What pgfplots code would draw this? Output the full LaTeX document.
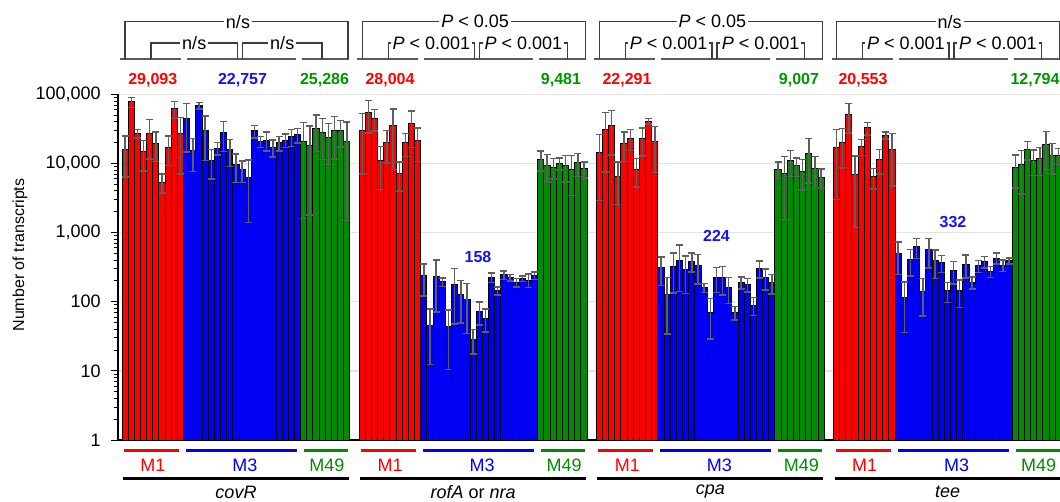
\documentclass[border=0pt]{standalone}
\usepackage{fontspec}
\setmainfont{Liberation Sans}
\usepackage{pgfplots}
\usepackage{pgfplotstable}
\pgfplotsset{compat=1.18}
\definecolor{cred}{RGB}{255,0,0}
\definecolor{cblue}{RGB}{0,0,250}
\definecolor{cgreen}{RGB}{0,140,0}
\definecolor{tgreen}{RGB}{0,150,0}
\definecolor{tblue}{RGB}{20,20,240}
\definecolor{brk}{RGB}{60,60,60}
\definecolor{seg}{RGB}{90,90,90}
\definecolor{ebar}{RGB}{95,95,95}

% M1 (red): g = gene group, i = bar index, y = mean, e = error
\pgfplotstableread{
g i y e
0 0 15700 9300
0 1 77400 13200
0 2 27300 3900
0 3 14700 6900
0 4 27300 15700
0 5 19600 8900
0 6 5350 1630
0 7 17100 7700
0 8 61400 16800
0 9 26700 19700
1 0 29800 22800
1 1 54200 26700
1 2 45000 15700
1 3 10900 6700
1 4 20000 9800
1 5 34800 26600
1 6 7210 3200
1 7 20000 7300
1 8 37200 20200
1 9 21600 11000
2 0 14500 11600
2 1 31200 23700
2 2 35600 22300
2 3 6530 4000
2 4 19600 8900
2 5 23100 7700
2 6 8130 3600
2 7 22600 9700
2 8 40700 3700
2 9 20700 13300
3 0 16900 13900
3 1 20200 11600
3 2 50800 23300
3 3 6980 5800
3 4 17700 4600
3 5 32600 6800
3 6 6380 2100
3 7 11500 4500
3 8 25500 3000
3 9 16000 11300
}\redtab

% M3 (blue)
\pgfplotstableread{
g i y e
0 10 44400 29700
0 11 15200 7600
0 12 68500 7200
0 13 29800 18800
0 14 11000 5000
0 15 16600 3400
0 16 27600 12600
0 17 15700 6600
0 18 9510 4200
0 19 8130 2800
0 20 6310 4900
0 21 29500 6100
0 22 20700 3700
0 23 21800 6700
0 24 17100 4700
0 25 19800 4600
0 26 21800 4900
0 27 24400 6800
0 28 25800 6000
1 10 237 116
1 11 45.3 33
1 12 235 164
1 13 194 27
1 14 43.4 33
1 15 175 127
1 16 126 77
1 17 109 74
1 18 28.4 11
1 19 72.3 26
1 20 57.2 21
1 21 224 35
1 22 144 19
1 23 245 35
1 24 224 23
1 25 190 26
1 26 216 21
1 27 205 45
1 28 239 29
2 10 309 137
2 11 129 95
2 12 319 185
2 13 399 259
2 14 296 164
2 15 386 118
2 16 330 151
2 17 159 23
2 18 69.8 41
2 19 224 88
2 20 224 98
2 21 159 65
2 22 69.8 15.5
2 23 190 36
2 24 177 39
2 25 89.4 26
2 26 306 84
2 27 222 74
2 28 188 59
3 10 492 243
3 11 114 78
3 12 403 166
3 13 621 198
3 14 139 77
3 15 562 257
3 16 390 174
3 17 365 101
3 18 144 46
3 19 280 101
3 20 144 61
3 21 345 126
3 22 190 36
3 23 330 64
3 24 378 72
3 25 273 49
3 26 427 77
3 27 338 65
3 28 390 37
}\bluetab

% M49 (green)
\pgfplotstableread{
g i y e
0 29 20500 18900
0 30 18300 16500
0 31 32300 17500
0 32 27900 16500
0 33 23900 14200
0 34 29500 17900
0 35 29500 12100
0 36 20500 19000
1 29 11500 3700
1 30 9420 4000
1 31 8810 2900
1 32 10070 2000
1 33 9200 3800
1 34 8240 4800
1 35 10200 3700
1 36 8330 2200
2 29 8240 2200
2 30 7050 5500
2 31 11000 4500
2 32 9200 2700
2 33 7710 3600
2 34 14000 8800
2 35 8500 4000
2 36 6310 2000
3 29 8810 4400
3 30 9510 5900
3 31 16000 4700
3 32 11200 4500
3 33 11900 5200
3 34 18500 10300
3 35 13200 6200
3 36 13000 3400
}\greentab

\pgfplotsset{
  eb/.style={error bars/.cd, y dir=both, y explicit, error mark=none,
    error bar style={ebar, line width=0.7bp, solid}},
  barsty/.style={draw=black, line width=0.5bp, fill=#1},
  capsty/.style={only marks, mark=-, mark size=1.75bp, color=ebar,
    mark options={ebar, line width=0.75bp, solid}},
}

\newcommand\ns{n/s}
\newcommand\pa{\textit{P} < 0.05}
\newcommand\pb{\textit{P} < 0.001}

% #1 = group start (px), #2 top label, #3 inner left, #4 inner right, #5 right end of inner right, #6 gene name
\newcommand\grp[6]{%
  \draw[seg, line width=1bp] (#1-2,59) -- (#1+59,59);
  \draw[seg, line width=1bp] (#1+65,59) -- (#1+174,59);
  \draw[seg, line width=1bp] (#1+180,59) -- (#1+227,59);
  \draw[brk, line width=0.65bp] (#1+3,59) |- (#1+226,21.7) -- (#1+226,59);
  \node[lab] at (#1+116,21.7) {#2};
  \draw[brk, line width=0.65bp] (#1+29,59) |- (#1+115.5,43) -- (#1+115.5,59);
  \node[lab] at ({#1+72.25},43) {#3};
  \draw[brk, line width=0.65bp] (#1+120.5,59) |- (#1+#5,43) -- (#1+#5,59);
  \node[lab] at ({#1+(120.5+#5)/2},43) {#4};
  \draw[cred, line width=1.5bp] (#1+2,451) -- (#1+57,451);
  \draw[cblue, line width=1.5bp] (#1+64,451) -- (#1+175,451);
  \draw[cgreen, line width=1.5bp] (#1+182,451) -- (#1+226,451);
  \node[cred] at (#1+31,465) {M1};
  \node[cblue] at (#1+123,465) {M3};
  \node[cgreen] at (#1+205,465) {M49};
  \draw[black, line width=1.5bp] (#1+1,479) -- (#1+227,479);
  \node at (#1+114,492) {#6};
}

\begin{document}
\begin{tikzpicture}
\useasboundingbox (0,0) rectangle (530bp,-251bp);
\begin{axis}[
  at={(59bp,-220bp)}, anchor=south west,
  scale only axis, width=471bp, height=172.85bp,
  xmin=-1.15, xmax=151.77,
  ymode=log, ymin=1, ymax=100000,
  ytick={1,10,100,1000,10000,100000},
  yticklabels={1,10,100,{1,000},{10,000},{100,000}},
  minor ytick={2,3,4,5,6,7,8,9,20,30,40,50,60,70,80,90,200,300,400,500,600,700,800,900,2000,3000,4000,5000,6000,7000,8000,9000,20000,30000,40000,50000,60000,70000,80000,90000},
  xtick=\empty,
  axis x line*=bottom, axis y line*=left,
  axis line style={black, line width=0.6bp},
  tick align=outside,
  major tick length=3.5bp, minor tick length=2bp,
  tick style={black, line width=0.5bp},
  yticklabel style={font=\fontsize{9bp}{10bp}\selectfont, inner sep=1.5bp, xshift=-3.5bp},
  ymajorgrids, major grid style={gray!22, line width=0.7bp},
  ybar, bar width=1, bar shift=0pt,
]
\addplot[barsty=cred, eb] table[x expr=\thisrow{g}*38.5+\thisrow{i}, y=y, y error=e] {\redtab};
\addplot[barsty=cblue, eb] table[x expr=\thisrow{g}*38.5+\thisrow{i}, y=y, y error=e] {\bluetab};
\addplot[barsty=cgreen, eb] table[x expr=\thisrow{g}*38.5+\thisrow{i}, y=y, y error=e] {\greentab};
% error bar caps (mean + sd, mean - sd)
\addplot[capsty] table[x expr=\thisrow{g}*38.5+\thisrow{i}, y expr=\thisrow{y}+\thisrow{e}] {\redtab};
\addplot[capsty] table[x expr=\thisrow{g}*38.5+\thisrow{i}, y expr=\thisrow{y}-\thisrow{e}] {\redtab};
\addplot[capsty] table[x expr=\thisrow{g}*38.5+\thisrow{i}, y expr=\thisrow{y}+\thisrow{e}] {\bluetab};
\addplot[capsty] table[x expr=\thisrow{g}*38.5+\thisrow{i}, y expr=\thisrow{y}-\thisrow{e}] {\bluetab};
\addplot[capsty] table[x expr=\thisrow{g}*38.5+\thisrow{i}, y expr=\thisrow{y}+\thisrow{e}] {\greentab};
\addplot[capsty] table[x expr=\thisrow{g}*38.5+\thisrow{i}, y expr=\thisrow{y}-\thisrow{e}] {\greentab};
\end{axis}
\begin{scope}[x=0.5bp, y=-0.5bp,
  every node/.style={font=\fontsize{9bp}{10.5bp}\selectfont, inner sep=0.5bp},
  lab/.style={fill=white, inner xsep=1bp, inner ysep=0.5bp}]
  \grp{122}{\ns}{\ns}{\ns}{200}{\textit{covR}}
  \grp{359.2}{\pa}{\pb}{\pb}{208}{\textit{rofA} or \textit{nra}}
  \grp{596.4}{\pa}{\pb}{\pb}{208}{\textit{cpa}}
  \grp{833.6}{\ns}{\pb}{\pb}{208}{\textit{tee}}
  \node[rotate=90, font=\fontsize{8bp}{9bp}\selectfont] at (20,255) {Number of transcripts};
  \begin{scope}[every node/.append style={font=\fontsize{8bp}{9bp}\selectfont\bfseries}]
    \node[cred] at (152.8,80) {29,093};
    \node[tblue] at (242.5,80) {22,757};
    \node[tgreen] at (324.5,80) {25,286};
    \node[cred] at (390,80) {28,004};
    \node[tgreen] at (561,80) {9,481};
    \node[cred] at (627,80) {22,291};
    \node[tgreen] at (799,80) {9,007};
    \node[cred] at (863,80) {20,553};
    \node[tgreen] at (1035,80) {12,794};
    \node[tblue] at (478,256.5) {158};
    \node[tblue] at (716.5,236) {224};
    \node[tblue] at (953,222) {332};
  \end{scope}
\end{scope}
\end{tikzpicture}
\end{document}
